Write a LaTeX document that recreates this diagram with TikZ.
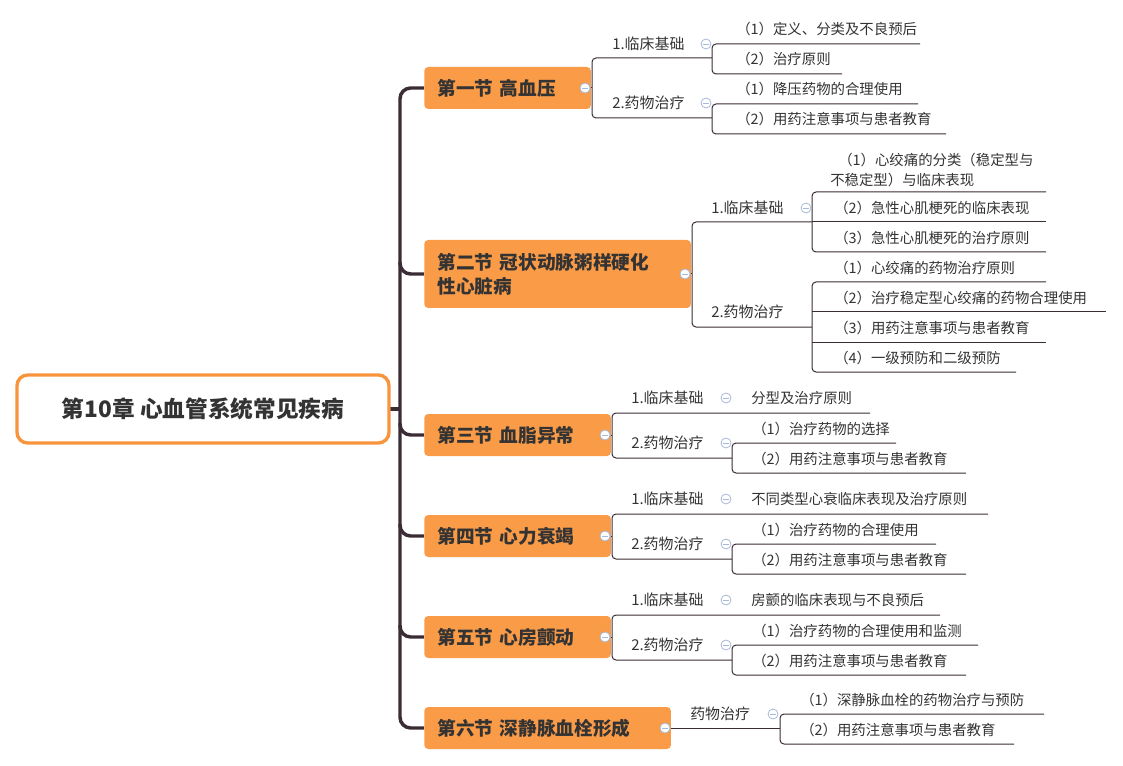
\documentclass[tikz,border=0pt]{standalone}
\usepackage{fontspec}
\setmainfont{Noto Sans CJK SC}
\definecolor{secfill}{HTML}{FA9B48}
\definecolor{rootbd}{HTML}{F7943C}
\definecolor{trunkc}{HTML}{3A2C35}
\definecolor{lnc}{HTML}{3A2C35}
\definecolor{txtc}{HTML}{333333}
\definecolor{dotc}{HTML}{A8B8D8}
\begin{document}
\begin{tikzpicture}[x=0.75pt,y=-0.75pt,
  ln/.style={draw=lnc, line width=0.75pt, rounded corners=3pt},
  trunk/.style={draw=trunkc, line width=2.6pt, rounded corners=8pt},
  sec/.style={fill=secfill, rounded corners=3pt, font=\fontsize{14}{18}\selectfont\bfseries, text=txtc, anchor=west, inner sep=0pt, align=left},
  txt/.style={anchor=west, font=\fontsize{10.8}{15}\selectfont, text=txtc, inner sep=0pt, align=left},
  sub/.style={anchor=west, font=\fontsize{11.2}{14}\selectfont, text=txtc, inner sep=0pt},
  dot/.style={draw=dotc, line width=0.6pt, fill=white, circle, minimum size=7.5pt, inner sep=0pt, path picture={\draw[dotc,line width=0.6pt] ([xshift=-2pt]path picture bounding box.center)--([xshift=2pt]path picture bounding box.center);}}
]
\useasboundingbox (0,0) rectangle (1123,766);
% trunk
\draw[trunk] (424,88) -- (400,88) -- (400,728) -- (424,728);
\foreach \y in {274,435,536,637} \draw[trunk] (400,\y-12) -- (400,\y) -- (424,\y);
\draw[trunk] (389,409) -- (400,409);
% root
\node (root) [draw=rootbd, line width=2.5pt, fill=white, rounded corners=8pt, minimum width=279pt, minimum height=51pt, font=\fontsize{17}{20}\selectfont\bfseries, text=txtc] at (203,409) {第10章 心血管系统常见疾病};
% sections
\node (s1) [sec, minimum width=115.5pt, minimum height=31.5pt, text width=105pt, inner xsep=10pt] at (424,88) {第一节 高血压};
\node (s2) [sec, minimum width=190.5pt, minimum height=51pt, text width=180pt, inner xsep=10pt] at (424,274) {第二节 冠状动脉粥样硬化\\性心脏病};
\node (s3) [sec, minimum width=130.5pt, minimum height=31.5pt, text width=120pt, inner xsep=10pt] at (424,435) {第三节 血脂异常};
\node (s4) [sec, minimum width=130.5pt, minimum height=31.5pt, text width=120pt, inner xsep=10pt] at (424,536) {第四节 心力衰竭};
\node (s5) [sec, minimum width=130.5pt, minimum height=31.5pt, text width=120pt, inner xsep=10pt] at (424,637) {第五节 心房颤动};
\node (s6) [sec, minimum width=175.5pt, minimum height=31.5pt, text width=165pt, inner xsep=10pt] at (424,728) {第六节 深静脉血栓形成};

% ===== Section 1
\draw[ln] (s1.east) -- (592,88);
\draw[ln] (712,58) -- (592,58) -- (592,118) -- (712,118);
\draw[ln] (920,44) -- (712,44) -- (712,74) -- (842,74);
\draw[ln] (918,104) -- (712,104) -- (712,134) -- (946,134);
\node[sub] at (612,44) {1.临床基础};
\node[sub] at (612,103) {2.药物治疗};
\node[txt] at (736,29) {（1）定义、分类及不良预后};
\node[txt] at (736,59) {（2）治疗原则};
\node[txt] at (736,89) {（1）降压药物的合理使用};
\node[txt] at (736,119) {（2）用药注意事项与患者教育};
\node[dot] at (585,88) {};
\node[dot] at (706,44) {};
\node[dot] at (706,103) {};

% ===== Section 2
\draw[ln] (s2.east) -- (692,274);
\draw[ln] (812,222) -- (692,222) -- (692,327) -- (812,327);
\draw[ln] (1046,192) -- (812,192) -- (812,252) -- (1046,252);
\draw[ln] (812,222) -- (1046,222);
\draw[ln] (1046,282) -- (812,282) -- (812,372) -- (1016,372);
\draw[ln] (812,312) -- (1106,312);
\draw[ln] (812,342) -- (1046,342);
\node[sub] at (711,208) {1.临床基础};
\node[sub] at (711,312) {2.药物治疗};
\node[txt, anchor=south west] at (830,187) {\hspace*{6pt}（1）心绞痛的分类（稳定型与\\不稳定型）与临床表现};
\node[txt] at (834,208) {（2）急性心肌梗死的临床表现};
\node[txt] at (834,238) {（3）急性心肌梗死的治疗原则};
\node[txt] at (834,268) {（1）心绞痛的药物治疗原则};
\node[txt] at (834,298) {（2）治疗稳定型心绞痛的药物合理使用};
\node[txt] at (834,328) {（3）用药注意事项与患者教育};
\node[txt] at (834,358) {（4）一级预防和二级预防};
\node[dot] at (685,274) {};
\node[dot] at (806,208) {};

% ===== Sections 3-5
\foreach \s/\d/\la/\lb/\lc/\ea/\eb/\ec in {
  s3/0/分型及治疗原则/治疗药物的选择/用药注意事项与患者教育/870/896/966,
  s4/101/不同类型心衰临床表现及治疗原则/治疗药物的合理使用/用药注意事项与患者教育/988/936/966,
  s5/202/房颤的临床表现与不良预后/治疗药物的合理使用和监测/用药注意事项与患者教育/940/978/966}{
  \draw[ln] (\s.east) -- (612,435+\d);
  \draw[ln] (\ea,413+\d) -- (612,413+\d) -- (612,458+\d) -- (732,458+\d);
  \draw[ln] (\eb,443+\d) -- (732,443+\d) -- (732,473+\d) -- (\ec,473+\d);
  \node[sub] at (631,398+\d) {1.临床基础};
  \node[sub] at (631,443+\d) {2.药物治疗};
  \node[txt] at (751,398+\d) {\la};
  \node[txt] at (752,429+\d) {（1）\lb};
  \node[txt] at (752,459+\d) {（2）\lc};
  \node[dot] at (605,435+\d) {};
  \node[dot] at (726,398+\d) {};
  \node[dot] at (726,443+\d) {};
}

% ===== Section 6
\draw[ln] (s6.east) -- (780,728);
\draw[ln] (1044,714) -- (780,714) -- (780,744) -- (1014,744);
\node[sub] at (690,714) {药物治疗};
\node[txt] at (800,700) {（1）深静脉血栓的药物治疗与预防};
\node[txt] at (800,730) {（2）用药注意事项与患者教育};
\node[dot] at (665,728) {};
\node[dot] at (773,714) {};
\end{tikzpicture}
\end{document}
